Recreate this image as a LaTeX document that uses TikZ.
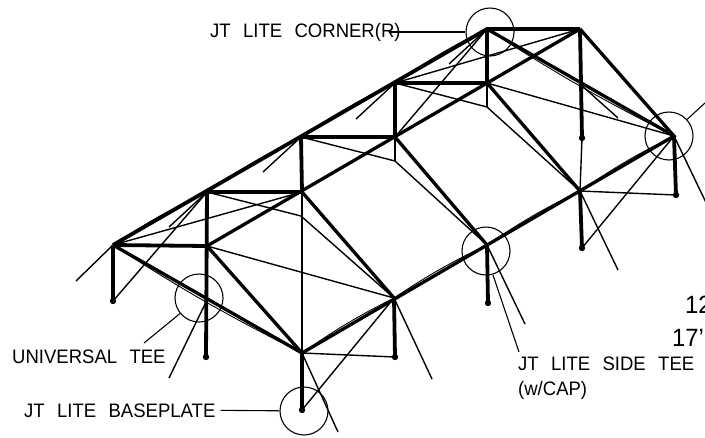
\documentclass[tikz,border=0pt]{standalone}
\usepackage{fontspec}
\setmainfont{Liberation Sans}[WordSpace=2.4,FakeStretch=0.95]
\tikzset{
  heavy/.style={line width=3.8pt},
  rafter/.style={line width=3.3pt},
  brace/.style={line width=1.4pt},
  sag/.style={line width=0.9pt},
  detail/.style={draw,circle,line width=1.1pt,minimum size=48pt,inner sep=0pt},
  leader/.style={line width=1.1pt},
  labeltext/.style={inner sep=0pt,font=\fontsize{19.5}{21}\selectfont,anchor=base west},
  bigtext/.style={labeltext,font=\fontsize{25}{27}\selectfont}
}
\newcommand{\drawheavy}{\draw[heavy]}
\newcommand{\footdot}[1]{\fill (#1) circle (3.2pt);}
\begin{document}
\begin{tikzpicture}[x=1pt,y=-1pt]
\useasboundingbox (0,0) rectangle (705,437);
% back eave, ridge, front eave
\foreach \name/\x/\y in {b0/113/245,b1/207/192,b2/301/137,b3/395/83,b4/487/29,
    r1/207/246,r2/302/192,r3/395/137,r4/487/83,r5/580/29,
    f1/302/353,f2/394/298,f3/487/245,f4/580/191,f5/674/136,
    p0/113/301,p1/206/357,p2/302/410,p3/395/357,p4/488/303,p5/582/248,p6/676/195,p7/582/138}{
  \coordinate (\name) at (\x,\y);
}
% thin bracing
\foreach \a/\b in {b0/r2,b3/r5,r1/f2,r4/f5,p0/b1,p2/f2,p5/f5,b4/r3,f1/p3,f4/p6,p7/f4,r2/f1}{
  \draw[brace] (\a) -- (\b);
}
\draw[brace] (b1) -- (301,216) -- (f2);
\draw[brace] (b2) -- (395,161) -- (f3);
\draw[brace] (b3) -- (487,107) -- (f4);
\draw[brace] (r3) -- (395,161);
\draw[brace] (r4) -- (487,107);
% free ends of the braces
\foreach \a/\x/\y in {b0/76/281,b1/169/227,b2/263/172,b3/356/119,b4/449/64,
    f1/338/432,f2/432/379,f3/525/324,f4/618/270,f5/712/215}{
  \draw[brace] (\a) -- (\x,\y);
}
\draw[brace] (207,300) -- (169,378);
\draw[brace] (580,84) -- (618,118);
% sagging lines beside the heavy members
\foreach \a/\b in {b0/f1,b4/f5}{
  \draw[sag] (\a) to[bend right=3] (\b);
}
\foreach \a/\b in {f1/f2,f2/f3,f3/f4,f4/f5,b0/b1,b1/b2,b2/b3,b3/b4}{
  \draw[sag] (\a) to[bend left=4] (\b);
}
% frame
\drawheavy (b0) -- (b4) -- (r5);
\draw[rafter] (r5) -- (f5) -- (f1) -- (b0);
\draw[rafter] (b4) -- (f5);
\drawheavy (b0) -- (r1);
\draw[rafter] (r1) -- (r5);
\foreach \a/\b in {b1/r2,b2/r3,b3/r4}{
  \drawheavy (\a) -- (\b);
}
\foreach \a/\b in {r1/f1,r2/f2,r3/f3,r4/f4}{
  \draw[rafter] (\a) -- (\b);
}
% posts
\foreach \a/\b in {b0/p0,b1/p1,b2/r2,b3/r3,b4/r4,f1/p2,f2/p3,f3/p4,f4/p5,f5/p6,r5/p7}{
  \drawheavy (\a) -- (\b);
}
\foreach \p in {p0,p1,p2,p3,p4,p5,p6,p7}{\footdot{\p}}
% detail circles
\node[detail] (cornerR) at (490,32) {};
\node[detail] (cornerL) at (669,136) {};
\node[detail] (sidetee) at (486,251) {};
\node[detail] (univtee) at (199,298) {};
\node[detail] (baseplate) at (304,411) {};
% labels
\node[labeltext] (cornerlabel) at (210,37) {JT LITE CORNER(R)};
\node[labeltext] (univlabel) at (12,363) {UNIVERSAL TEE};
\node[labeltext] (baselabel) at (24,417) {JT LITE BASEPLATE};
\node[labeltext] (sidelabel) at (518,370) {JT LITE SIDE TEE};
\node[labeltext] (caplabel) at (518,395) {(w/CAP)};
\node[bigtext] (widthlabel) at (685,313) {12};
\node[bigtext] (lengthlabel) at (672,346) {17'};
% leaders
\coordinate (cornerend) at (390,32);
\coordinate (univend) at (144,343);
\coordinate (sideend) at (519,352);
\coordinate (rightend) at (705,103);
\draw[leader] (cornerend) -- (cornerR);
\draw[leader] (univend) -- (univtee);
\draw[leader] (sideend) -- (493,275);
\draw[leader] (rightend) -- (cornerL);
\draw[leader,shorten <=5pt] (baselabel.east) -- (baseplate);
\end{tikzpicture}
\end{document}
